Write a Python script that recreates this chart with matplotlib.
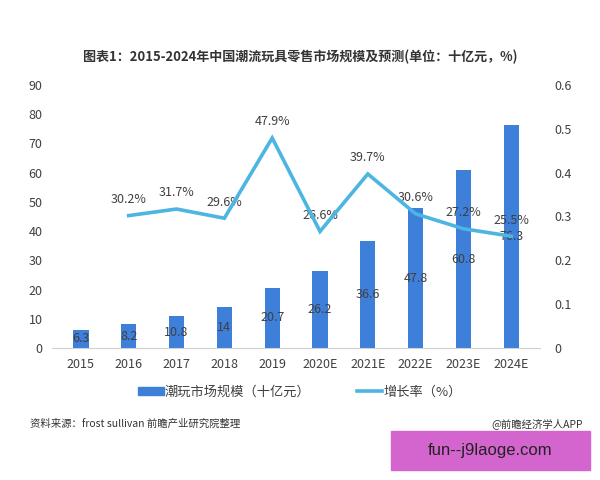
import matplotlib
matplotlib.use("Agg")
import matplotlib.pyplot as plt
from matplotlib.patches import Rectangle
from matplotlib.lines import Line2D

plt.rcParams["font.family"] = ["Noto Sans CJK SC", "DejaVu Sans"]

# data
years = ["2015", "2016", "2017", "2018", "2019", "2020E", "2021E", "2022E", "2023E", "2024E"]
market_size = [6.3, 8.2, 10.8, 14, 20.7, 26.2, 36.6, 47.8, 60.8, 76.3]
growth_years = years[1:]
growth_rate = [0.302, 0.317, 0.296, 0.479, 0.266, 0.397, 0.306, 0.272, 0.255]
growth_labels = ["30.2%", "31.7%", "29.6%", "47.9%", "26.6%", "39.7%", "30.6%", "27.2%", "25.5%"]
left_ticks = [0, 10, 20, 30, 40, 50, 60, 70, 80, 90]
right_ticks = [0, 0.1, 0.2, 0.3, 0.4, 0.5, 0.6]

bar_color = "#3D7FD9"
line_color = "#4DB5E2"
text_color = "#404040"

fig = plt.figure(figsize=(6, 4.8), dpi=100)
ax = fig.add_axes([0.087, 0.275, 0.813, 0.548])
ax2 = ax.twinx()

x = list(range(len(years)))
bars = ax.bar(x, market_size, width=0.32, color=bar_color, zorder=2)
for xi, v in zip(x, market_size):
    ax.text(xi, v / 2, f"{v:g}", ha="center", va="center", fontsize=9, color=text_color, zorder=3)

gx = x[1:]
ax2.plot(gx, growth_rate, color=line_color, lw=2.6, zorder=4, solid_joinstyle="miter")
for xi, v, lab in zip(gx, growth_rate, growth_labels):
    ax2.text(xi, v + 0.022, lab, ha="center", va="bottom", fontsize=9, color=text_color)

ax.set_xlim(-0.6, len(years) - 0.4)
ax.set_ylim(0, 90)
ax.set_yticks(left_ticks)
ax2.set_ylim(0, 0.6)
ax2.set_yticks(right_ticks)
ax2.set_yticklabels([f"{t:g}" for t in right_ticks])
ax.set_xticks(x)
ax.set_xticklabels(years)

for a in (ax, ax2):
    for s in ("top", "left", "right"):
        a.spines[s].set_visible(False)
    a.tick_params(length=0, labelsize=9, colors=text_color)
ax2.spines["bottom"].set_visible(False)
ax.spines["bottom"].set_color("#d0d0d0")
ax.tick_params(axis="y", pad=7)
ax2.tick_params(axis="y", pad=10)
ax.tick_params(axis="x", pad=7)

fig.text(0.5, 0.882, "图表1：2015-2024年中国潮流玩具零售市场规模及预测(单位：十亿元，%)",
         ha="center", va="center", fontsize=9.4, fontweight="bold", color="#333333")

handles = [Rectangle((0, 0), 1, 1, color=bar_color),
           Line2D([0], [0], color=line_color, lw=2.6)]
fig.legend(handles, ["潮玩市场规模（十亿元）", "增长率（%）"], loc="center",
           bbox_to_anchor=(0.5, 0.183), ncol=2, frameon=False, fontsize=9.5,
           handlelength=1.9, handleheight=0.6, columnspacing=3.5, handletextpad=0.1,
           labelcolor=text_color)

fig.text(0.05, 0.118, "资料来源：frost sullivan 前瞻产业研究院整理", ha="left", va="center",
         fontsize=7.5, color="#333333")
fig.text(0.972, 0.118, "@前瞻经济学人APP", ha="right", va="center", fontsize=7.5, color="#333333")

fig.patches.append(Rectangle((0.652, 0.021), 0.332, 0.081, transform=fig.transFigure,
                             color="#D465CE", zorder=5))
fig.text(0.817, 0.062, "fun--j9laoge.com", ha="center", va="center", fontsize=12,
         family="Liberation Sans", color="#222222", zorder=6)

fig.savefig("out.png", dpi=100, facecolor="white")
